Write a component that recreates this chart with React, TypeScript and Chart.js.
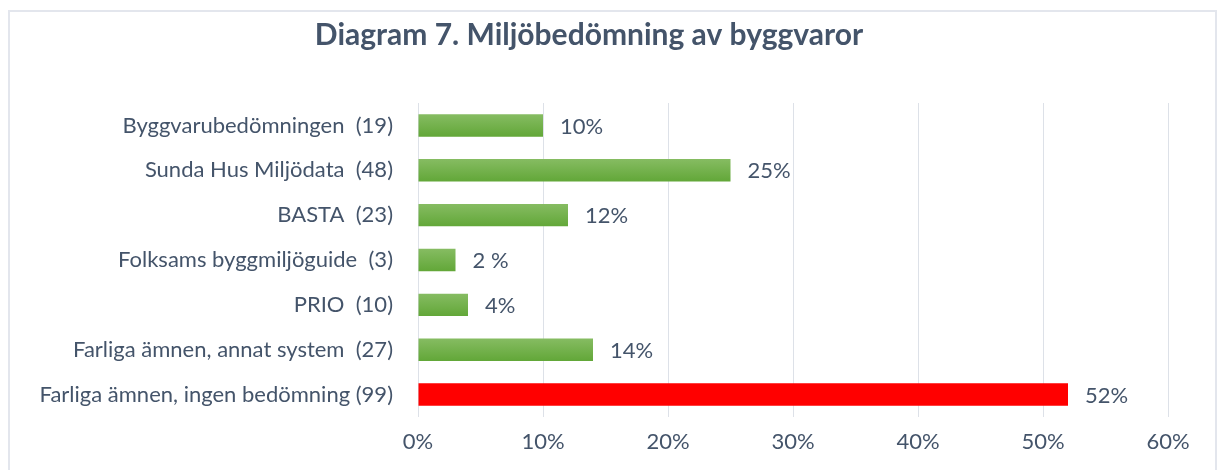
import React, { useEffect, useRef } from "react";
import { Chart, registerables } from "chart.js";

Chart.register(...registerables);

const categories = [
  "Byggvarubedömningen  (19)",
  "Sunda Hus Miljödata  (48)",
  "BASTA  (23)",
  "Folksams byggmiljöguide  (3)",
  "PRIO  (10)",
  "Farliga ämnen, annat system  (27)",
  "Farliga ämnen, ingen bedömning (99)",
];
const values = [10, 25, 12, 3, 4, 14, 52];
const valueLabels = ["10%", "25%", "12%", "2 %", "4%", "14%", "52%"];
const highlightIndex = 6;

const TEXT = "#44546A";
const FONT = "Lato";

const dataLabelPlugin = {
  id: "dataLabels",
  afterDatasetsDraw(chart: any) {
    const meta = chart.getDatasetMeta(0);
    const c = chart.ctx;
    c.save();
    c.font = `22px ${FONT}`;
    c.fillStyle = TEXT;
    c.textAlign = "left";
    c.textBaseline = "middle";
    meta.data.forEach((el: any, i: number) => {
      c.fillText(valueLabels[i], el.x + 17, el.y + 1);
    });
    c.restore();
  },
};

export default function App() {
  const ref = useRef<HTMLCanvasElement>(null);
  useEffect(() => {
    document.body.style.margin = "0";
    document.body.style.overflow = "hidden";
    const chart = new Chart(ref.current!, {
      type: "bar",
      data: {
        labels: categories,
        datasets: [
          {
            data: values,
            barPercentage: 0.5,
            categoryPercentage: 1,
            backgroundColor: (ctx: any) => {
              if (ctx.dataIndex === highlightIndex) return "#FF0000";
              const ch = ctx.chart;
              const area = ch.chartArea;
              if (!area || !ch.scales.y) return "#72B04A";
              const y = ch.scales.y.getPixelForValue(ctx.dataIndex);
              const half = (area.bottom - area.top) / categories.length / 4;
              const g = ch.ctx.createLinearGradient(0, y - half, 0, y + half);
              g.addColorStop(0, "#86BC62");
              g.addColorStop(1, "#62A738");
              return g;
            },
          },
        ],
      },
      options: {
        indexAxis: "y",
        animation: false,
        responsive: false,
        maintainAspectRatio: false,
        layout: { padding: { left: 0, right: 47, top: 0, bottom: 13 } },
        plugins: {
          legend: { display: false },
          tooltip: { enabled: false },
          title: {
            display: true,
            text: "Diagram 7. Miljöbedömning av byggvaror",
            color: TEXT,
            font: { family: FONT, size: 30, weight: "bold" },
            padding: { top: 5, bottom: 50 },
          },
        },
        scales: {
          x: {
            min: 0,
            max: 60,
            afterFit: (scale: any) => {
              scale.height = 40;
            },
            ticks: {
              stepSize: 10,
              callback: (v: any) => v + "%",
              color: TEXT,
              font: { family: FONT, size: 22 },
              padding: 12,
            },
            grid: { color: "#DDE1E8", lineWidth: 1, drawTicks: false },
            border: { display: false },
          },
          y: {
            afterFit: (scale: any) => {
              scale.width = 408;
            },
            ticks: {
              color: TEXT,
              font: { family: FONT, size: 22 },
              padding: 25,
            },
            grid: { display: false, drawTicks: false },
            border: { display: false },
          },
        },
      },
      plugins: [dataLabelPlugin],
    } as any);
    return () => chart.destroy();
  }, []);
  return (
    <div
      style={{
        position: "absolute",
        left: 8,
        top: 10,
        width: 1205,
        height: 470,
        border: "2px solid #E3E6ED",
        background: "#fff",
      }}
    >
      <canvas ref={ref} width={1205} height={458} style={{ display: "block" }} />
    </div>
  );
}
